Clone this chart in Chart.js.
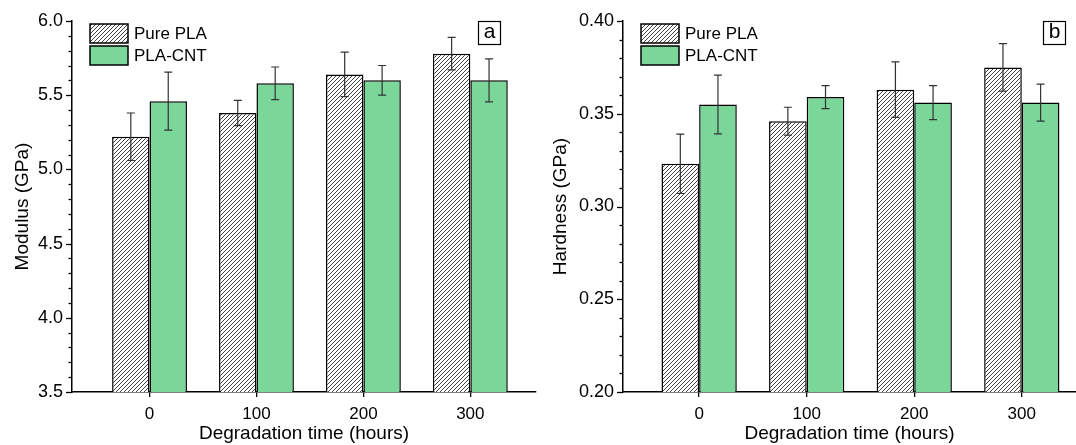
<!DOCTYPE html>
<html>
<head>
<meta charset="utf-8">
<script src="https://cdn.jsdelivr.net/npm/chart.js@4.4.0/dist/chart.umd.min.js"></script>
<style>
html, body { margin: 0; padding: 0; background: #fff; }
#wrap { position: relative; width: 1076px; height: 445px; overflow: hidden; }
canvas { position: absolute; top: 0; }
</style>
</head>
<body>
<div id="wrap">
  <canvas id="graphic-a" width="538" height="445" style="left:0"></canvas>
  <canvas id="graphic-b" width="538" height="445" style="left:538px"></canvas>
</div>
<script>
// dados
const hours = [0, 100, 200, 300];
const seriesNames = ['Pure PLA', 'PLA-CNT'];

const modulusPure = [5.22, 5.38, 5.64, 5.78];
const modulusPureErr = [0.16, 0.085, 0.15, 0.11];
const modulusCnt = [5.46, 5.58, 5.60, 5.60];
const modulusCntErr = [0.195, 0.11, 0.10, 0.145];

const hardnessPure = [0.323, 0.346, 0.363, 0.375];
const hardnessPureErr = [0.016, 0.0075, 0.015, 0.0128];
const hardnessCnt = [0.355, 0.359, 0.356, 0.356];
const hardnessCntErr = [0.0158, 0.0062, 0.0092, 0.010];

const modulusTicks = [3.5, 4.0, 4.5, 5.0, 5.5, 6.0];
const hardnessTicks = [0.20, 0.25, 0.30, 0.35, 0.40];

const FONT = "'Liberation Sans', Arial, sans-serif";
const GREEN = '#7bd69a';

// padrão hachurado (///)
function makeHatch(ctx) {
  const n = 4;
  const c = document.createElement('canvas');
  c.width = n; c.height = n;
  const g = c.getContext('2d');
  g.fillStyle = '#fff';
  g.fillRect(0, 0, n, n);
  g.strokeStyle = '#2a2a2a';
  g.lineWidth = 0.9;
  g.beginPath();
  g.moveTo(-1, n + 1); g.lineTo(n + 1, -1);
  g.moveTo(-1, 1); g.lineTo(1, -1);
  g.moveTo(n - 1, n + 1); g.lineTo(n + 1, n - 1);
  g.stroke();
  return ctx.createPattern(c, 'repeat');
}

const isMajor = (v, majors) => majors.some(m => Math.abs(m - v) < 1e-7);

// barras de erro desenhadas pela escala y
const errorBars = {
  id: 'errorBars',
  afterDatasetsDraw(chart) {
    const ctx = chart.ctx;
    const y = chart.scales.y;
    ctx.save();
    ctx.strokeStyle = '#333';
    ctx.lineWidth = 1.2;
    chart.data.datasets.forEach((ds, d) => {
      chart.getDatasetMeta(d).data.forEach((bar, i) => {
        const v = ds.data[i].y, e = ds.errors[i];
        const top = y.getPixelForValue(v + e);
        const bot = y.getPixelForValue(v - e);
        ctx.beginPath();
        ctx.moveTo(bar.x, top); ctx.lineTo(bar.x, bot);
        ctx.moveTo(bar.x - 4, top); ctx.lineTo(bar.x + 4, top);
        ctx.moveTo(bar.x - 4, bot); ctx.lineTo(bar.x + 4, bot);
        ctx.stroke();
      });
    });
    ctx.restore();
  }
};

// ticks menores e maiores do eixo y
const yTickMarks = {
  id: 'yTickMarks',
  afterDraw(chart, args, opts) {
    const ctx = chart.ctx;
    const y = chart.scales.y;
    const left = chart.chartArea.left;
    ctx.save();
    ctx.strokeStyle = '#000';
    ctx.lineWidth = 1.3;
    y.ticks.forEach(t => {
      const py = Math.round(y.getPixelForValue(t.value)) + 0.5;
      const len = isMajor(t.value, opts.majors) ? 6 : 3.5;
      ctx.beginPath();
      ctx.moveTo(left - len, py);
      ctx.lineTo(left, py);
      ctx.stroke();
    });
    ctx.restore();
  }
};

// legenda dentro da área e caixinha com a letra
const panelLegend = {
  id: 'panelLegend',
  afterDraw(chart, args, opts) {
    const ctx = chart.ctx;
    const x0 = opts.boxX;
    ctx.save();
    chart.data.datasets.forEach((ds, d) => {
      const by = 24 + d * 22;
      ctx.fillStyle = ds.backgroundColor;
      ctx.fillRect(x0, by, 38, 19);
      ctx.strokeStyle = '#000';
      ctx.lineWidth = 1.5;
      ctx.strokeRect(x0, by, 38, 19);
      ctx.fillStyle = '#000';
      ctx.font = '17px ' + FONT;
      ctx.textBaseline = 'middle';
      ctx.textAlign = 'left';
      ctx.fillText(ds.label, x0 + 44, by + 10);
    });
    ctx.strokeStyle = '#000';
    ctx.lineWidth = 1.2;
    ctx.strokeRect(opts.tagX + 0.5, 21.5, 22, 23);
    ctx.font = '21px ' + FONT;
    ctx.textAlign = 'center';
    ctx.textBaseline = 'middle';
    ctx.fillText(opts.tag, opts.tagX + 11.5, 32);
    ctx.restore();
  }
};

function buildChart(id, cfg) {
  const ctx = document.getElementById(id).getContext('2d');
  const hatch = makeHatch(ctx);
  return new Chart(ctx, {
    type: 'bar',
    data: {
      datasets: [
        {
          label: seriesNames[0],
          data: hours.map((h, i) => ({ x: h, y: cfg.pure[i] })),
          errors: cfg.pureErr,
          backgroundColor: hatch,
          borderColor: '#000',
          borderWidth: 1.5
        },
        {
          label: seriesNames[1],
          data: hours.map((h, i) => ({ x: h, y: cfg.cnt[i] })),
          errors: cfg.cntErr,
          backgroundColor: GREEN,
          borderColor: '#000',
          borderWidth: 1.5
        }
      ]
    },
    options: {
      responsive: false,
      animation: false,
      categoryPercentage: 0.7,
      barPercentage: 1,
      layout: { padding: { left: 0, right: cfg.padRight, top: 21, bottom: 0 } },
      plugins: {
        legend: { display: false },
        tooltip: { enabled: false },
        yTickMarks: { majors: cfg.majors },
        panelLegend: { boxX: cfg.boxX, tagX: cfg.tagX, tag: cfg.tag }
      },
      scales: {
        x: {
          type: 'linear',
          min: cfg.xMin,
          max: cfg.xMax,
          offset: false,
          afterFit: s => { s.height = 53; },
          grid: { offset: false, drawOnChartArea: false, drawTicks: true, tickLength: 5, color: '#000', lineWidth: 1.3 },
          border: { color: '#000', width: 1.5 },
          ticks: {
            stepSize: 100,
            includeBounds: false,
            padding: 7,
            color: '#000',
            font: { family: FONT, size: 17 },
            callback: v => String(v)
          },
          title: {
            display: true,
            text: 'Degradation time (hours)',
            color: '#000',
            font: { family: FONT, size: 19 },
            padding: { top: 0, bottom: 0 }
          }
        },
        y: {
          min: cfg.yMin,
          max: cfg.yMax,
          afterFit: s => { s.width = cfg.axisLeft; },
          grid: { display: true, drawOnChartArea: false, drawTicks: false },
          border: { color: '#000', width: 1.5 },
          ticks: {
            stepSize: cfg.minorStep,
            autoSkip: false,
            padding: 9,
            color: '#000',
            font: { family: FONT, size: 18 },
            callback: v => isMajor(v, cfg.majors) ? v.toFixed(cfg.decimals) : ''
          },
          title: {
            display: true,
            text: cfg.yTitle,
            color: '#000',
            font: { family: FONT, size: 19 },
            padding: { top: 11, bottom: 0 }
          }
        }
      }
    },
    plugins: [errorBars, yTickMarks, panelLegend]
  });
}

buildChart('graphic-a', {
  pure: modulusPure, pureErr: modulusPureErr,
  cnt: modulusCnt, cntErr: modulusCntErr,
  majors: modulusTicks, minorStep: 0.1, decimals: 1,
  yMin: 3.5, yMax: 6.0, yTitle: 'Modulus (GPa)',
  xMin: -72.5, xMax: 361.4, axisLeft: 72, padRight: 2,
  boxX: 90, tagX: 478, tag: 'a'
});

buildChart('graphic-b', {
  pure: hardnessPure, pureErr: hardnessPureErr,
  cnt: hardnessCnt, cntErr: hardnessCntErr,
  majors: hardnessTicks, minorStep: 0.01, decimals: 2,
  yMin: 0.20, yMax: 0.40, yTitle: 'Hardness (GPa)',
  xMin: -70.8, xMax: 350.4, axisLeft: 85, padRight: 0,
  boxX: 103, tagX: 505, tag: 'b'
});
</script>
</body>
</html>
